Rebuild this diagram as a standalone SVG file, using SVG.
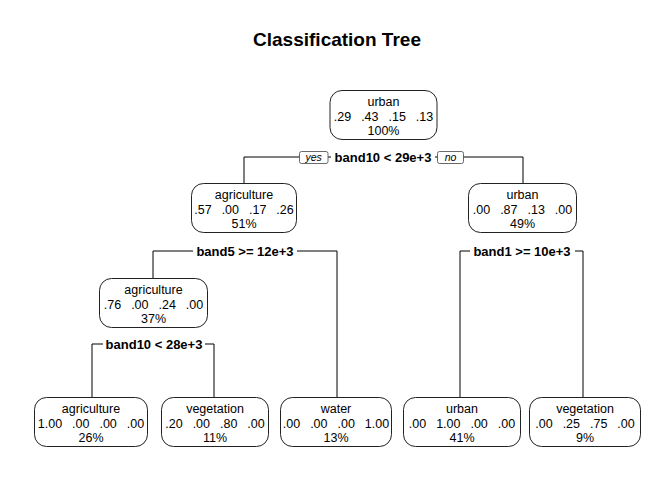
<svg xmlns="http://www.w3.org/2000/svg" width="672" height="480" viewBox="0 0 672 480">
<style>
.box{fill:#fff;stroke:#222;stroke-width:1}
.t{font-family:"Liberation Sans",Arial,sans-serif;font-size:12.5px;fill:#000;text-anchor:middle;word-spacing:6.5px}
.lbl{font-family:"Liberation Sans",Arial,sans-serif;font-size:13px;font-weight:bold;fill:#000;text-anchor:middle}
.yn{font-family:"Liberation Sans",Arial,sans-serif;font-size:10.5px;font-style:italic;fill:#000;text-anchor:middle}
.ynb{fill:#fff;stroke:#444;stroke-width:0.8}
.c{stroke:#000;stroke-width:1;fill:none}
.bg{fill:#fff}
</style>
<rect width="672" height="480" fill="#fff"/>
<text x="337" y="46" font-family="Liberation Sans,Arial,sans-serif" font-size="19" font-weight="bold" text-anchor="middle">Classification Tree</text>
<g id="connectors">
<path class="c" d="M244,183 V157 H523 V183"/>
<path class="c" d="M153,278 V251 H337 V397"/>
<path class="c" d="M460,397 V251 H583 V397"/>
<path class="c" d="M92,397 V344 H214 V397"/>
<rect class="bg" x="331" y="150" width="104" height="14"/>
<rect class="ynb" x="299.5" y="151.5" width="28.5" height="12" rx="2"/>
<text class="yn" x="313.7" y="161">yes</text>
<rect class="ynb" x="437.5" y="151.5" width="26" height="12" rx="2"/>
<text class="yn" x="450.5" y="161">no</text>
<text class="lbl" x="383" y="162">band10 &lt; 29e+3</text>
<rect class="bg" x="193" y="244" width="104" height="14"/>
<text class="lbl" x="245" y="256">band5 &gt;= 12e+3</text>
<rect class="bg" x="470" y="244" width="105" height="14"/>
<text class="lbl" x="522" y="256">band1 &gt;= 10e+3</text>
<rect class="bg" x="103" y="337" width="102" height="14"/>
<text class="lbl" x="154" y="349">band10 &lt; 28e+3</text>
</g>
<g id="n1">
<rect class="box" x="330" y="90.5" width="107" height="49" rx="12"/>
<text class="t" x="383.5" y="106">urban</text>
<text class="t" x="383.5" y="120.5">.29 .43 .15 .13</text>
<text class="t" x="383.5" y="135">100%</text>
</g>
<g id="n2">
<rect class="box" x="191.5" y="183.5" width="105" height="49" rx="12"/>
<text class="t" x="244" y="199">agriculture</text>
<text class="t" x="244" y="213.5">.57 .00 .17 .26</text>
<text class="t" x="244" y="228">51%</text>
</g>
<g id="n3">
<rect class="box" x="468.5" y="183.5" width="108" height="49" rx="12"/>
<text class="t" x="522.5" y="199">urban</text>
<text class="t" x="522.5" y="213.5">.00 .87 .13 .00</text>
<text class="t" x="522.5" y="228">49%</text>
</g>
<g id="n4">
<rect class="box" x="99.5" y="278.5" width="108" height="49" rx="12"/>
<text class="t" x="153.5" y="294">agriculture</text>
<text class="t" x="153.5" y="308.5">.76 .00 .24 .00</text>
<text class="t" x="153.5" y="323">37%</text>
</g>
<g id="n5">
<rect class="box" x="34.5" y="397.5" width="113" height="49" rx="12"/>
<text class="t" x="91" y="413">agriculture</text>
<text class="t" x="91" y="427.5">1.00 .00 .00 .00</text>
<text class="t" x="91" y="442">26%</text>
</g>
<g id="n6">
<rect class="box" x="161.5" y="397.5" width="107" height="49" rx="12"/>
<text class="t" x="215" y="413">vegetation</text>
<text class="t" x="215" y="427.5">.20 .00 .80 .00</text>
<text class="t" x="215" y="442">11%</text>
</g>
<g id="n7">
<rect class="box" x="280.5" y="397.5" width="111" height="49" rx="12"/>
<text class="t" x="336" y="413">water</text>
<text class="t" x="336" y="427.5">.00 .00 .00 1.00</text>
<text class="t" x="336" y="442">13%</text>
</g>
<g id="n8">
<rect class="box" x="403.5" y="397.5" width="117" height="49" rx="12"/>
<text class="t" x="462" y="413">urban</text>
<text class="t" x="462" y="427.5">.00 1.00 .00 .00</text>
<text class="t" x="462" y="442">41%</text>
</g>
<g id="n9">
<rect class="box" x="529.5" y="397.5" width="111" height="49" rx="12"/>
<text class="t" x="585" y="413">vegetation</text>
<text class="t" x="585" y="427.5">.00 .25 .75 .00</text>
<text class="t" x="585" y="442">9%</text>
</g>
</svg>
